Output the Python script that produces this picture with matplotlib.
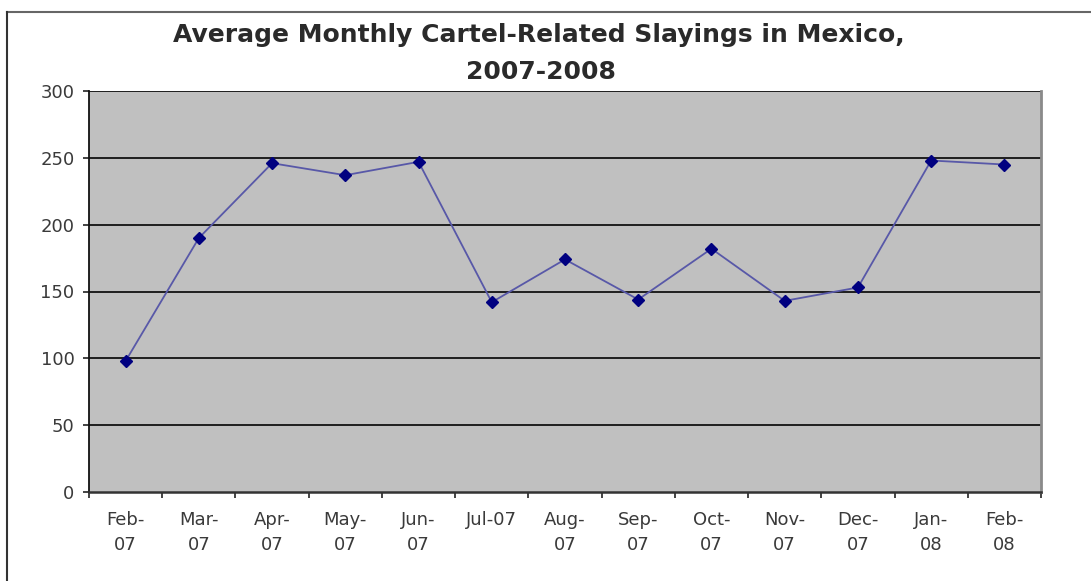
import matplotlib
matplotlib.use('Agg')
import matplotlib.pyplot as plt
from matplotlib.lines import Line2D
import numpy as np

months = ['Feb-\n07', 'Mar-\n07', 'Apr-\n07', 'May-\n07', 'Jun-\n07', 'Jul-07',
          'Aug-\n07', 'Sep-\n07', 'Oct-\n07', 'Nov-\n07', 'Dec-\n07', 'Jan-\n08', 'Feb-\n08']
slayings = [98, 190, 246, 237, 247, 142, 174, 144, 182, 143, 153, 248, 245]
yticks = [0, 50, 100, 150, 200, 250, 300]

# the original picture is stretched sideways, so use the wider DejaVu face
plt.rcParams['font.family'] = ['DejaVu Sans']

fig = plt.figure(figsize=(10.91, 5.81), dpi=100)
ax = fig.add_axes([89 / 1091, 89 / 581, 952 / 1091, 401 / 581])

# outer chart border (top and left visible)
fig.add_artist(Line2D([7 / 1091, 1.0], [1 - 12 / 581, 1 - 12 / 581],
                      transform=fig.transFigure, color='#666666', lw=1.5))
fig.add_artist(Line2D([7 / 1091, 7 / 1091], [0, 1 - 12 / 581],
                      transform=fig.transFigure, color='#333333', lw=1.5))

ax.set_facecolor('#c0c0c0')
x = np.arange(len(months))
ax.plot(x, slayings, color='#5858a8', lw=1.3, marker='D', markersize=6.3,
        markerfacecolor='#000080', markeredgecolor='#000080', zorder=3)

ax.set_xlim(-0.5, len(months) - 0.5)
ax.set_ylim(0, 300)
ax.set_yticks(yticks)
for v in yticks[1:]:
    ax.axhline(v, color='#1e1e1e', lw=1.4, zorder=1)

ax.set_xticks(x)
ax.set_xticklabels(months, fontsize=13, color='#3a3a3a', linespacing=1.45)
ax.set_xticks(np.arange(-0.5, len(months)), minor=True)
ax.tick_params(axis='x', which='major', length=0, pad=14)
ax.tick_params(axis='x', which='minor', length=4.5, width=1.2, direction='out', color='#222222')
ax.tick_params(axis='y', length=4.5, width=1.2, direction='out', pad=6,
               labelsize=13, labelcolor='#3a3a3a', color='#222222')

ax.spines['top'].set_visible(False)
ax.spines['left'].set_color('#111111')
ax.spines['bottom'].set_color('#333333')
ax.spines['left'].set_linewidth(1.3)
ax.spines['bottom'].set_linewidth(1.8)
ax.spines['right'].set_color('#8a8a8a')
ax.spines['right'].set_linewidth(2)

fig.text(539 / 1091, 1 - 35 / 581, 'Average Monthly Cartel-Related Slayings in Mexico,',
         ha='center', va='center', fontsize=18, fontweight='bold', color='#2a2a2a')
fig.text(541 / 1091, 1 - 72 / 581, '2007-2008',
         ha='center', va='center', fontsize=18, fontweight='bold', color='#2a2a2a')

fig.savefig('out.png', dpi=100)
